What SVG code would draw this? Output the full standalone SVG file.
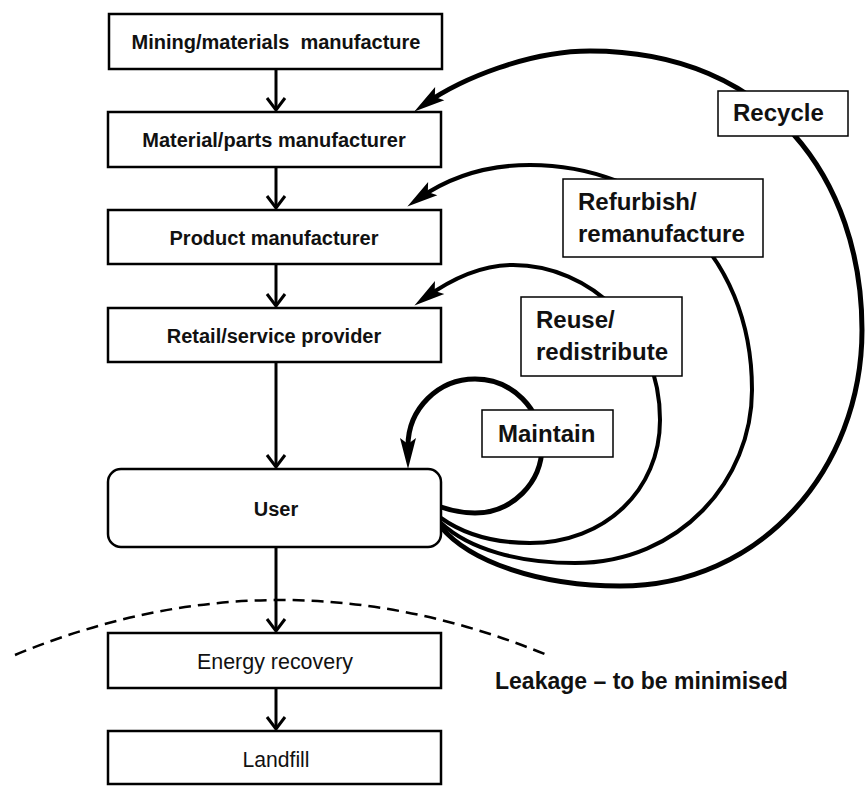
<svg xmlns="http://www.w3.org/2000/svg" width="865" height="786" viewBox="0 0 865 786">
<style>
.box{fill:#fff;stroke:#000;stroke-width:2.5}
.lbl{fill:#fff;stroke:#000;stroke-width:1.5}
.t{font-family:"Liberation Sans",Arial,sans-serif;font-weight:bold;font-size:20px;fill:#111;text-anchor:middle}
.tr{font-family:"Liberation Sans",Arial,sans-serif;font-size:22px;fill:#111;text-anchor:middle}
.lt{font-family:"Liberation Sans",Arial,sans-serif;font-weight:bold;font-size:24px;fill:#111}
.conn{fill:none;stroke:#000;stroke-width:3}
.loop{fill:none;stroke:#000}
</style>
<defs>
<marker id="open" markerUnits="userSpaceOnUse" markerWidth="16" markerHeight="22" viewBox="-2 -2 16 22" refX="12" refY="9" orient="auto" overflow="visible">
<path d="M0,0 L12,9 L0,18" fill="none" stroke="#000" stroke-width="3"/>
</marker>
<marker id="head" markerUnits="userSpaceOnUse" markerWidth="32" markerHeight="18" viewBox="0 0 32 18" refX="18" refY="9" orient="auto" overflow="visible">
<path d="M0,1 L31,9 L0,17 L6,9 z" fill="#000"/>
</marker>
</defs>

<g id="connectors">
<path class="conn" d="M276,69 L276,110" marker-end="url(#open)"/>
<path class="conn" d="M276,167 L276,208" marker-end="url(#open)"/>
<path class="conn" d="M276,264 L276,306" marker-end="url(#open)"/>
<path class="conn" d="M276,362 L276,467" marker-end="url(#open)"/>
<path class="conn" d="M276,547 L276,631" marker-end="url(#open)"/>
<path class="conn" d="M276,688 L276,729" marker-end="url(#open)"/>
<path id="recycle-arc" class="loop" stroke-width="5" d="M441,527 C470,562 540,586 620,586 C760,586 862,470 862,330 C862,180 770,51 590,51 C530,51 462,78 425,104" marker-end="url(#head)"/>
<path id="refurbish-arc" class="loop" stroke-width="4" d="M441,523 C470,550 520,563 575,563 C680,563 752,480 752,390 C752,250 650,165 530,165 C480,165 445,180 418,199" marker-end="url(#head)"/>
<path id="reuse-arc" class="loop" stroke-width="4" d="M441,518 C465,535 495,543 530,543 C605,543 660,490 660,420 C660,330 590,265 513,265 C480,265 450,280 425,298" marker-end="url(#head)"/>
<path id="maintain-arc" class="loop" stroke-width="5" d="M441,507 Q458,513 475,513 A67,67 0 1 0 408,446 L408,456" marker-end="url(#head)"/>
<path id="leakage-line" d="M15,655 Q280,545 547,655" fill="none" stroke="#000" stroke-width="2.5" stroke-dasharray="12,7"/>
</g>

<g id="label-recycle">
<rect class="lbl" x="718" y="91" width="130" height="45"/>
<text class="lt" x="733" y="121">Recycle</text>
</g>
<g id="label-refurbish">
<rect class="lbl" x="563" y="179" width="200" height="78"/>
<text class="lt" x="578" y="210">Refurbish/</text>
<text class="lt" x="578" y="242">remanufacture</text>
</g>
<g id="label-reuse">
<rect class="lbl" x="521" y="297" width="161" height="79"/>
<text class="lt" x="536" y="328">Reuse/</text>
<text class="lt" x="536" y="360">redistribute</text>
</g>
<g id="label-maintain">
<rect class="lbl" x="482" y="410" width="131" height="47"/>
<text class="lt" x="498" y="442">Maintain</text>
</g>

<g id="mining">
<rect class="box" x="109" y="14" width="333" height="55"/>
<text class="t" x="276" y="49" xml:space="preserve" style="white-space:pre">Mining/materials  manufacture</text>
</g>
<g id="material-parts">
<rect class="box" x="108" y="112" width="333" height="55"/>
<text class="t" x="274" y="147">Material/parts manufacturer</text>
</g>
<g id="product">
<rect class="box" x="108" y="210" width="333" height="54"/>
<text class="t" x="274" y="245">Product manufacturer</text>
</g>
<g id="retail">
<rect class="box" x="108" y="308" width="333" height="54"/>
<text class="t" x="274" y="343">Retail/service provider</text>
</g>
<g id="user">
<rect class="box" x="108" y="469" width="333" height="78" rx="13" ry="13"/>
<text class="t" x="276" y="516">User</text>
</g>
<g id="energy">
<rect class="box" x="108" y="633" width="333" height="55"/>
<text class="tr" x="275" y="669" textLength="156" lengthAdjust="spacingAndGlyphs">Energy recovery</text>
</g>
<g id="landfill">
<rect class="box" x="108" y="731" width="333" height="53"/>
<text class="tr" x="276" y="767" textLength="67" lengthAdjust="spacingAndGlyphs">Landfill</text>
</g>
<g id="leakage">
<text class="lt" x="495" y="689" style="font-size:23px">Leakage – to be minimised</text>
</g>
</svg>
